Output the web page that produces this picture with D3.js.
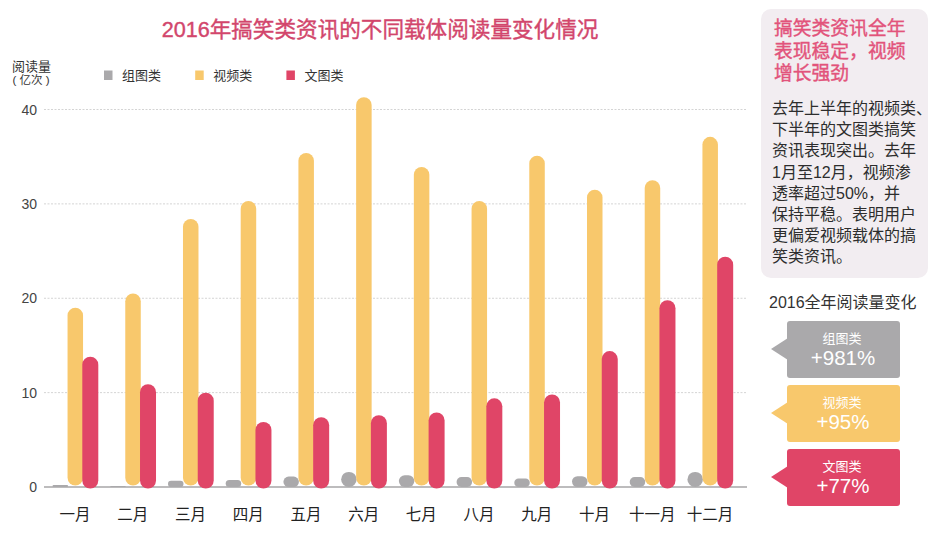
<!DOCTYPE html>
<html lang="zh-CN">
<head>
<meta charset="utf-8">
<script src="https://cdn.jsdelivr.net/npm/d3@7"></script>
<style>
html, body { margin: 0; padding: 0; background: #fff; }
text { font-family: "Liberation Sans", "Noto Sans CJK SC", sans-serif; }
</style>
</head>
<body>
<svg id="chart" width="942" height="546"></svg>
<script>
const months = ['一月', '二月', '三月', '四月', '五月', '六月', '七月', '八月', '九月', '十月', '十一月', '十二月']
const seriesNames = ['组图类', '视频类', '文图类']
const groupValues = [0.2, 0.1, 0.65, 0.75, 1.1, 1.6, 1.25, 1.05, 0.9, 1.15, 1.05, 1.6]
const videoValues = [19.0, 20.5, 28.4, 30.3, 35.4, 41.3, 33.9, 30.3, 35.1, 31.5, 32.5, 37.1]
const textValues = [13.8, 10.9, 10.0, 6.9, 7.4, 7.6, 7.9, 9.4, 9.8, 14.4, 19.8, 24.4]
const colors = ['#aaa9ab', '#f8c86c', '#e04567']
const yTicks = [0, 10, 20, 30, 40]
const headLines = ['搞笑类资讯全年', '表现稳定，视频', '增长强劲']
const bodyLines = ['去年上半年的视频类、', '下半年的文图类搞笑', '资讯表现突出。去年', '1月至12月，视频渗', '透率超过50%，并', '保持平稳。表明用户', '更偏爱视频载体的搞', '笑类资讯。']
const changes = ['+981%', '+95%', '+77%']

const svg = d3.select('#chart')
const barWidths = [15.5, 15.5, 16]

const x = d3.scaleBand().domain(months).range([46.2, 738.8])
const xInner = d3.scaleBand().domain(seriesNames).range([6.6, 51.6])
const y = d3.scaleLinear().domain([0, 40]).range([487, 109.5])

// Title
svg.append('text')
    .attr('x', 380).attr('y', 37)
    .attr('text-anchor', 'middle')
    .attr('font-size', 21.6)
    .attr('fill', '#d2466c')
    .attr('stroke', '#d2466c').attr('stroke-width', 0.4)
    .text('2016年搞笑类资讯的不同载体阅读量变化情况')

// Y axis title
svg.append('text').attr('x', 12).attr('y', 71)
    .attr('font-size', 13).attr('fill', '#333').text('阅读量')
svg.append('text').attr('x', 31).attr('y', 84)
    .attr('text-anchor', 'middle')
    .attr('font-size', 11.5).attr('fill', '#333').text('( 亿次 )')

// Legend
const legend = svg.append('g').selectAll('g').data(seriesNames).enter().append('g')
    .attr('transform', (d, i) => `translate(${104 + i * 91.2}, 70.5)`)
legend.append('rect').attr('width', 8.5).attr('height', 9.5)
    .attr('fill', (d, i) => colors[i])
legend.append('text').attr('x', 18).attr('y', 9)
    .attr('font-size', 13).attr('fill', '#333').text(d => d)

// Grid and axis
const tick = svg.append('g').selectAll('g').data(yTicks).enter().append('g')
tick.filter(d => d > 0).append('line')
    .attr('x1', 44).attr('x2', 747)
    .attr('y1', d => y(d)).attr('y2', d => y(d))
    .attr('stroke', '#d4d4d4').attr('stroke-dasharray', '2,1.5')
tick.append('text')
    .attr('x', 37).attr('y', d => y(d) + 5)
    .attr('text-anchor', 'end')
    .attr('font-size', 14).attr('fill', '#444')
    .text(d => d)

svg.append('line')
    .attr('x1', 44).attr('x2', 747)
    .attr('y1', y(0)).attr('y2', y(0))
    .attr('stroke', '#bdbcbd').attr('stroke-width', 2)

// Bars
const allValues = [groupValues, videoValues, textValues]
const bottomPad = [0, -1.5, 1.5]
allValues.forEach((values, s) => {
    svg.append('g').selectAll('rect').data(values).enter().append('rect')
        .attr('x', (d, i) => x(months[i]) + xInner(seriesNames[s]) + xInner.bandwidth() / 2 - barWidths[s] / 2)
        .attr('y', d => y(d))
        .attr('width', barWidths[s])
        .attr('height', d => y(0) - y(d) + bottomPad[s])
        .attr('rx', d => Math.min(barWidths[s] / 2, (y(0) - y(d) + bottomPad[s]) / 2))
        .attr('fill', colors[s])
})

// Month labels
svg.append('g').selectAll('text').data(months).enter().append('text')
    .attr('x', d => x(d) + x.bandwidth() / 2)
    .attr('y', 520)
    .attr('text-anchor', 'middle')
    .attr('font-size', 15.5).attr('fill', '#222')
    .text(d => d)

// Side panel
svg.append('rect')
    .attr('x', 761).attr('y', 9).attr('width', 167).attr('height', 269)
    .attr('rx', 10).attr('fill', '#f2edf1')
svg.append('g').selectAll('text').data(headLines).enter().append('text')
    .attr('x', 774).attr('y', (d, i) => 35 + i * 22.6)
    .attr('font-size', 18.8).attr('fill', '#e2537b')
    .attr('stroke', '#e2537b').attr('stroke-width', 0.4)
    .text(d => d)
svg.append('g').selectAll('text').data(bodyLines).enter().append('text')
    .attr('x', 772).attr('y', (d, i) => 114 + i * 21.2)
    .attr('font-size', 16).attr('fill', '#2d2d2d')
    .text(d => d)

// Yearly change callouts
svg.append('text').attr('x', 769).attr('y', 308)
    .attr('font-size', 16).attr('fill', '#333')
    .text('2016全年阅读量变化')

const callout = svg.append('g').selectAll('g').data(seriesNames).enter().append('g')
    .attr('transform', (d, i) => `translate(787, ${321 + i * 64})`)
callout.append('path')
    .attr('d', 'M1,17 L-16,28 L1,39 Z')
    .attr('fill', (d, i) => colors[i])
callout.append('rect')
    .attr('width', 113).attr('height', 57).attr('rx', 3)
    .attr('fill', (d, i) => colors[i])
callout.append('text')
    .attr('x', 55).attr('y', 22)
    .attr('text-anchor', 'middle')
    .attr('font-size', 13).attr('fill', '#fff')
    .text(d => d)
callout.append('text')
    .attr('x', 56).attr('y', 44)
    .attr('text-anchor', 'middle')
    .attr('font-size', 20.5).attr('fill', '#fff')
    .text((d, i) => changes[i])
</script>
</body>
</html>
